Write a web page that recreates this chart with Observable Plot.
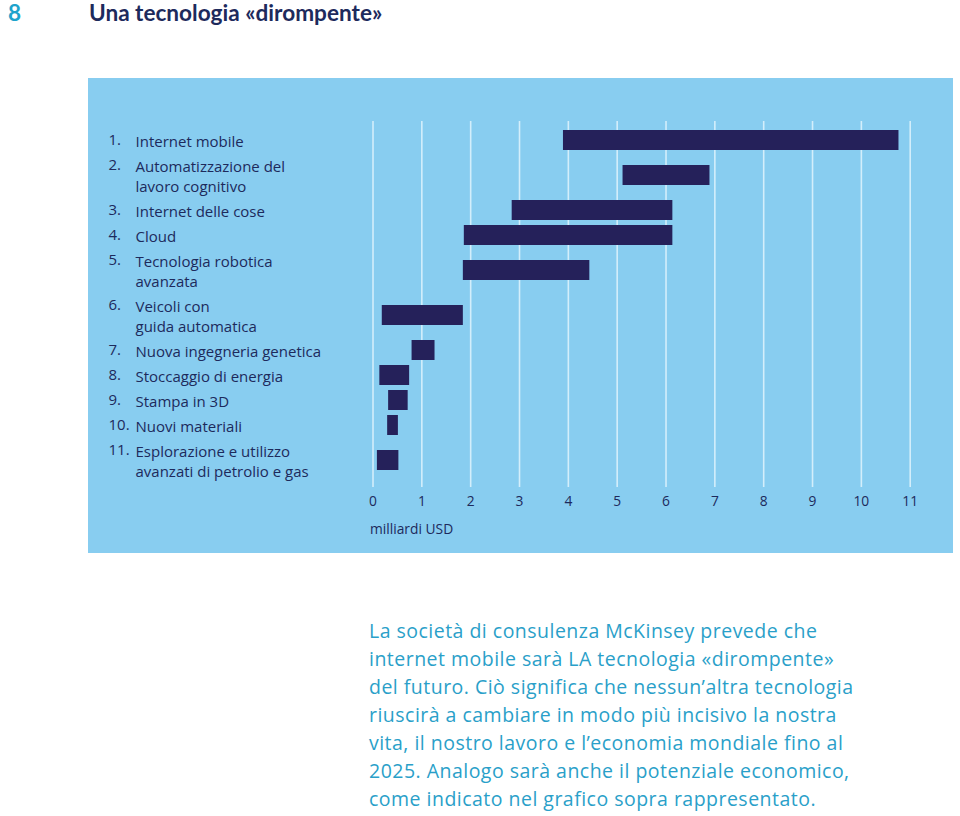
<!DOCTYPE html>
<html><head><meta charset="utf-8">
<script src="https://cdn.jsdelivr.net/npm/d3@7"></script>
<script src="https://cdn.jsdelivr.net/npm/@observablehq/plot@0.6"></script>
<style>
body{margin:0;background:#fff;width:960px;height:816px;position:relative;font-family:"Open Sans",Lato,sans-serif;overflow:hidden}
#page{position:absolute;left:8px;top:0px;line-height:26px;font-family:Lato,sans-serif;font-weight:700;font-size:22.6px;color:#1ea3cc}
#title{position:absolute;left:89px;top:0px;line-height:26px;font-family:Lato,sans-serif;font-weight:700;font-size:22.6px;color:#1d2a5c}
#chart{position:absolute;left:88px;top:78px}
#caption{position:absolute;left:369px;top:617px;font-size:19.5px;letter-spacing:0.48px;line-height:28px;color:#2a9fc9}
</style></head><body>
<div id="page">8</div>
<div id="title">Una tecnologia «dirompente»</div>
<div id="chart"></div>
<div id="caption">La società di consulenza McKinsey prevede che<br>internet mobile sarà LA tecnologia «dirompente»<br>del futuro. Ciò significa che nessun’altra tecnologia<br>riuscirà a cambiare in modo più incisivo la nostra<br>vita, il nostro lavoro e l’economia mondiale fino al<br>2025. Analogo sarà anche il potenziale economico,<br>come indicato nel grafico sopra rappresentato.</div>
<script>
// Data
const technologies = [
  "Internet mobile",
  "Automatizzazione del\nlavoro cognitivo",
  "Internet delle cose",
  "Cloud",
  "Tecnologia robotica\navanzata",
  "Veicoli con\nguida automatica",
  "Nuova ingegneria genetica",
  "Stoccaggio di energia",
  "Stampa in 3D",
  "Nuovi materiali",
  "Esplorazione e utilizzo\navanzati di petrolio e gas"
];
const impactLow  = [3.9, 5.12, 2.85, 1.87, 1.85, 0.19, 0.80, 0.14, 0.32, 0.30, 0.09];
const impactHigh = [10.77, 6.90, 6.14, 6.14, 4.44, 1.85, 1.27, 0.75, 0.72, 0.52, 0.53];
const xTicks = [0, 1, 2, 3, 4, 5, 6, 7, 8, 9, 10, 11];
const unitLabel = "milliardi USD";

// Layout of the list: label slots in "line units" derived from the number of text lines
const LINE_STEP = 0.8, GAP = 1, BAR_HALF = 0.4;
let cursor = 0;
const rows = technologies.map((t, i) => {
  const lines = t.split("\n").length;
  const first = cursor;
  const center = cursor + (lines - 1) * LINE_STEP / 2;
  cursor += (lines - 1) * LINE_STEP + GAP;
  return {num: (i + 1) + ".", name: t, low: impactLow[i], high: impactHigh[i], first, center};
});
const lastEnd = cursor - GAP;

const navy = "#1d2a5c";
const font = "'Open Sans', Lato, sans-serif";
const labelSize = 15;
const chart = Plot.plot({
  width: 865,
  height: 475,
  marginLeft: 284.5,
  marginRight: 43.3,
  marginTop: 43,
  marginBottom: 66,
  style: {background: "#88cdf0", fontFamily: font, color: navy, overflow: "visible"},
  x: {domain: [0, 11]},
  y: {domain: [-0.76, lastEnd + 0.68], reverse: true, axis: null},
  marks: [
    Plot.ruleX(xTicks, {stroke: "#d3eefb", strokeWidth: 1.6}),
    Plot.rect(rows, {x1: "low", x2: "high", y1: d => d.center - BAR_HALF, y2: d => d.center + BAR_HALF, fill: "#25215a"}),
    Plot.axisX({ticks: xTicks, tickSize: 0, tickPadding: 8.5, fontSize: 13.8, tickFormat: d => String(d), color: navy}),
    Plot.text(rows, {y: "first", text: "num", frameAnchor: "left", textAnchor: "start", dx: -264.5, fontSize: labelSize, fill: navy}),
    Plot.text(rows, {y: "center", text: "name", frameAnchor: "left", textAnchor: "start", dx: -237.5, fontSize: labelSize, lineHeight: 20 / labelSize, fill: navy}),
    Plot.text([unitLabel], {frameAnchor: "bottom-left", textAnchor: "start", dx: -3, dy: 46, fontSize: 13.8, fill: navy})
  ]
});
document.getElementById("chart").appendChild(chart);
</script>
</body></html>
